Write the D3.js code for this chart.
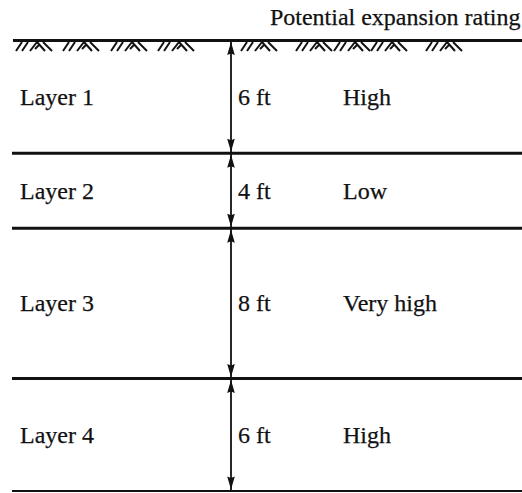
<!DOCTYPE html>
<html>
<head>
<meta charset="utf-8">
<script src="https://cdn.jsdelivr.net/npm/d3@7"></script>
<style>
  html, body { margin: 0; padding: 0; background: #fff; }
  svg { display: block; }
  text { font-family: "Liberation Serif", "Times New Roman", serif; fill: #111; stroke: #111; stroke-width: 0.25; }
</style>
</head>
<body>
<script>
// ---- data ----
const layerNames = ["Layer 1", "Layer 2", "Layer 3", "Layer 4"];
const thicknessFt = [6, 4, 8, 6];
const ratings = ["High", "Low", "Very high", "High"];
const headerLabel = "Potential expansion rating";
// soil hatch groups along the ground surface (horizontal positions in px)
const hatchStarts = [15, 62, 110, 157, 240, 295, 333, 370, 425];

const W = 522, H = 493;
const svg = d3.select("body").append("svg").attr("width", W).attr("height", H);

// cumulative depths
const tops = [];
let acc = 0;
thicknessFt.forEach(t => { tops.push(acc); acc += t; });
const total = acc;
const layers = layerNames.map((n, i) => ({
  name: n, thick: thicknessFt[i], rating: ratings[i], top: tops[i], bottom: tops[i] + thicknessFt[i]
}));

const y = d3.scaleLinear().domain([0, total]).range([40.5, 491]);
const xLeft = 13, xRight = W;
const xArrow = 231;
const xLabel = 20, xThick = 238, xRating = 343;
const fs = 24;

// header (right-aligned so it stays inside the frame)
svg.append("text").attr("x", W - 1.5).attr("y", 25).attr("text-anchor", "end")
  .attr("font-size", fs).text(headerLabel);

// ground surface
svg.append("line").attr("x1", xLeft).attr("x2", xRight)
  .attr("y1", y(0)).attr("y2", y(0))
  .attr("stroke", "#111").attr("stroke-width", 3);

// hatch marks
const y0 = y(0) + 1.5, y1 = y(0) + 10.5;
const hatch = svg.append("g").attr("stroke", "#111").attr("stroke-width", 2).attr("fill", "none");
hatchStarts.forEach(hx => {
  const segs = [
    [hx + 7, y0, hx + 1, y1],
    [hx + 13, y0, hx + 7, y1],
    [hx + 22, y0, hx + 15, y1],
    [hx + 22, y0, hx + 30, y1],
    [hx + 24, y0 + 3, hx + 20, y1 - 2],
    [hx + 28, y0, hx + 37, y1]
  ];
  segs.forEach(s => hatch.append("line")
    .attr("x1", s[0]).attr("y1", s[1]).attr("x2", s[2]).attr("y2", s[3]));
});

// layer boundaries
layers.forEach((d, i) => {
  svg.append("line").attr("x1", xLeft - 1).attr("x2", xRight)
    .attr("y1", y(d.bottom)).attr("y2", y(d.bottom))
    .attr("stroke", "#111").attr("stroke-width", i === layers.length - 1 ? 2 : 3);
});

// vertical dimension line
svg.append("line").attr("x1", xArrow).attr("x2", xArrow)
  .attr("y1", y(0)).attr("y2", y(total))
  .attr("stroke", "#111").attr("stroke-width", 1.8);

// arrowheads
const headLen = 13, headHalf = 3.8;
function arrow(tipY, dir) { // dir = -1 up, +1 down
  const baseY = tipY - dir * headLen;
  svg.append("path")
    .attr("d", `M${xArrow},${tipY} L${xArrow - headHalf},${baseY} L${xArrow},${baseY + dir * 1.5} L${xArrow + headHalf},${baseY} Z`)
    .attr("fill", "#111");
}
layers.forEach(d => {
  arrow(y(d.top) + 1.5, -1);
  arrow(y(d.bottom) - 1.5, 1);
});

// texts
layers.forEach(d => {
  const mid = (y(d.top) + y(d.bottom)) / 2 + 8;
  svg.append("text").attr("x", xLabel).attr("y", mid).attr("font-size", fs).text(d.name);
  svg.append("text").attr("x", xThick).attr("y", mid).attr("font-size", fs).text(d.thick + " ft");
  svg.append("text").attr("x", xRating).attr("y", mid).attr("font-size", fs).text(d.rating);
});
</script>
</body>
</html>
